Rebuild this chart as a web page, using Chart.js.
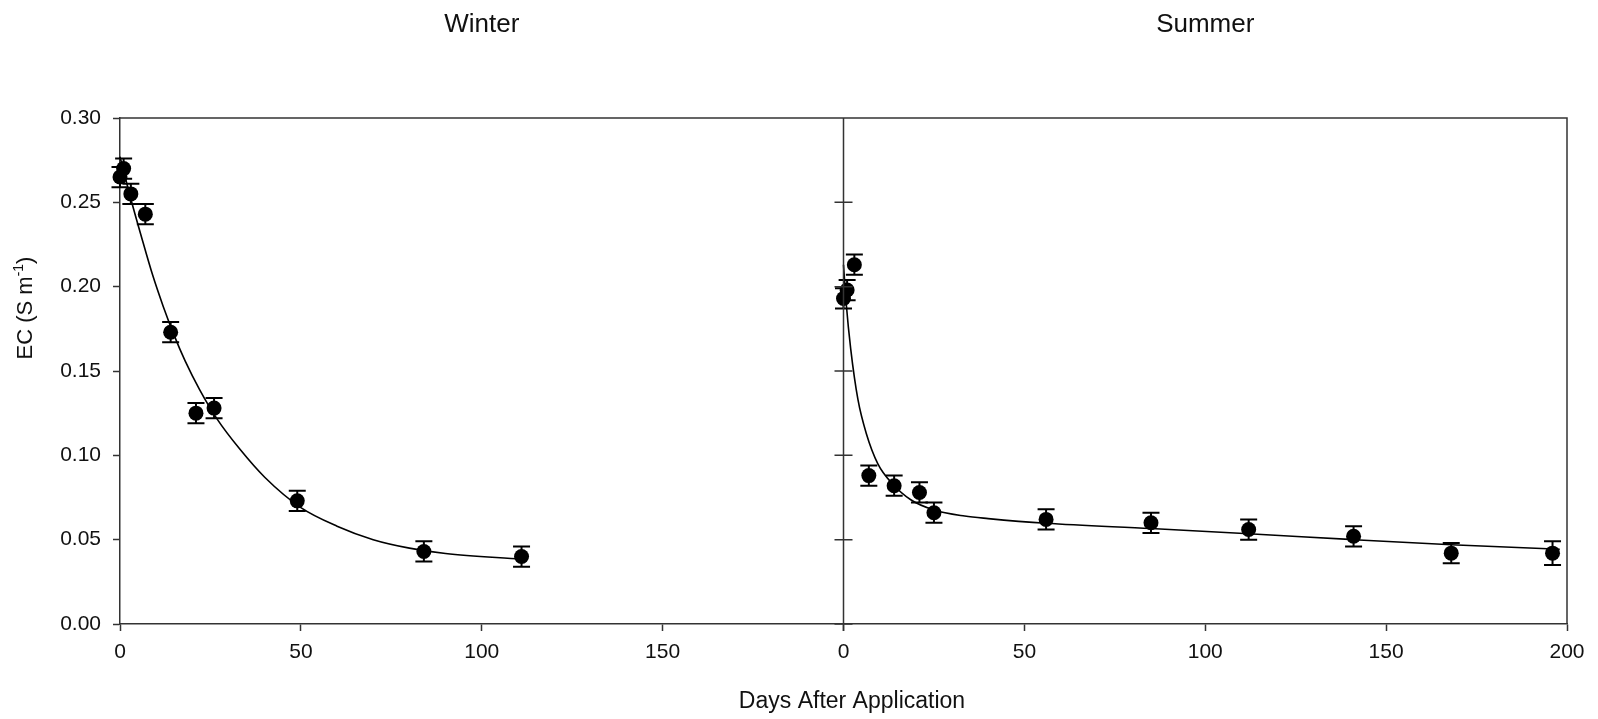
<!DOCTYPE html>
<html>
<head>
<meta charset="utf-8">
<title>EC after application</title>
<script src="https://cdn.jsdelivr.net/npm/chart.js@4.4.1/dist/chart.umd.min.js"></script>
<style>
  html, body { margin: 0; padding: 0; background: #fff; }
  #wrap { width: 1598px; height: 719px; }
</style>
</head>
<body>
<div id="wrap"><canvas id="ecChart" width="1598" height="719"></canvas></div>
<script>
// Measured EC (S m-1) with standard errors, winter application
const winterDays = [0, 1, 3, 7, 14, 21, 26, 49, 84, 111];
const winterEC = [0.265, 0.270, 0.255, 0.243, 0.173, 0.125, 0.128, 0.073, 0.043, 0.040];
const winterErr = [0.006, 0.006, 0.006, 0.006, 0.006, 0.006, 0.006, 0.006, 0.006, 0.006];

// Measured EC, summer application
const summerDays = [0, 1, 3, 7, 14, 21, 25, 56, 85, 112, 141, 168, 196];
const summerEC = [0.193, 0.198, 0.213, 0.088, 0.082, 0.078, 0.066, 0.062, 0.060, 0.056, 0.052, 0.042, 0.042];
const summerErr = [0.006, 0.006, 0.006, 0.006, 0.006, 0.006, 0.006, 0.006, 0.006, 0.006, 0.006, 0.006, 0.007];

// Fitted decay curves
const winterFitDays = [0, 3, 6, 9, 12, 15, 18, 22, 27, 33, 40, 50, 60, 70, 80, 90, 111];
const winterFitEC = [0.277, 0.252, 0.229, 0.207, 0.188, 0.171, 0.156, 0.139, 0.121, 0.104, 0.087, 0.069, 0.058, 0.050, 0.045, 0.0418, 0.0384];
const summerFitDays = [0, 0.75, 2, 4, 6.3, 9.5, 13.6, 18.7, 25, 33.5, 40, 56, 85, 112, 141, 168, 198];
const summerFitEC = [0.213, 0.190, 0.163, 0.133, 0.113, 0.095, 0.083, 0.0735, 0.0676, 0.0640, 0.0625, 0.0597, 0.0566, 0.0535, 0.0500, 0.0470, 0.0443];

const panelTitles = ['Winter', 'Summer'];
const xTitle = 'Days After Application';
const yTickStep = 0.05;
const xTickStep = 50;

const ink = '#111';
const axisColor = '#333';
const fontFamily = '"Liberation Sans", Arial, Helvetica, sans-serif';

function toPoints(xs, ys) {
    return xs.map((x, i) => ({ x: x, y: ys[i] }));
}

// Error bars drawn under the markers
const errorBars = {
    id: 'errorBars',
    beforeDatasetsDraw(chart) {
        const ctx = chart.ctx;
        const yScale = chart.scales.y;
        ctx.save();
        ctx.strokeStyle = '#000';
        ctx.lineWidth = 2;
        chart.data.datasets.forEach(ds => {
            if (!ds.errors) return;
            const xScale = chart.scales[ds.xAxisID];
            ds.data.forEach((p, i) => {
                const px = xScale.getPixelForValue(p.x);
                const top = yScale.getPixelForValue(p.y + ds.errors[i]);
                const bottom = yScale.getPixelForValue(p.y - ds.errors[i]);
                ctx.beginPath();
                ctx.moveTo(px, top);
                ctx.lineTo(px, bottom);
                ctx.moveTo(px - 8.5, top);
                ctx.lineTo(px + 8.5, top);
                ctx.moveTo(px - 8.5, bottom);
                ctx.lineTo(px + 8.5, bottom);
                ctx.stroke();
            });
        });
        ctx.restore();
    }
};

// Box around both panels, the divider and its crossing ticks
const panelFrame = {
    id: 'panelFrame',
    afterDraw(chart) {
        const ctx = chart.ctx;
        const area = chart.chartArea;
        const yScale = chart.scales.y;
        const divX = chart.scales.xS.getPixelForValue(0);
        ctx.save();
        ctx.strokeStyle = axisColor;
        ctx.lineWidth = 1.5;
        ctx.beginPath();
        ctx.moveTo(area.left, area.top);
        ctx.lineTo(area.right, area.top);
        ctx.lineTo(area.right, area.bottom);
        ctx.moveTo(divX, area.top);
        ctx.lineTo(divX, area.bottom);
        yScale.ticks.forEach(t => {
            const py = yScale.getPixelForValue(t.value);
            ctx.moveTo(divX - 9, py);
            ctx.lineTo(divX + 9, py);
        });
        ctx.stroke();
        ctx.restore();
    }
};

// Panel titles and axis titles
const chartText = {
    id: 'chartText',
    afterDraw(chart) {
        const ctx = chart.ctx;
        const xW = chart.scales.xW;
        const xS = chart.scales.xS;
        ctx.save();
        ctx.fillStyle = ink;
        ctx.textAlign = 'center';
        ctx.textBaseline = 'alphabetic';
        ctx.font = '26px ' + fontFamily;
        ctx.fillText(panelTitles[0], (xW.left + xW.right) / 2, 32);
        ctx.fillText(panelTitles[1], (xS.left + xS.right) / 2, 32);

        ctx.font = '23px ' + fontFamily;
        ctx.fillText(xTitle, 852, 708);

        // y title with superscript unit
        ctx.translate(26, 308);
        ctx.rotate(-Math.PI / 2);
        ctx.textAlign = 'left';
        ctx.textBaseline = 'middle';
        const mainFont = '22px ' + fontFamily;
        const supFont = '14px ' + fontFamily;
        ctx.font = mainFont;
        const w1 = ctx.measureText('EC (S m').width;
        const w3 = ctx.measureText(')').width;
        ctx.font = supFont;
        const w2 = ctx.measureText('-1').width;
        let x0 = -(w1 + w2 + w3) / 2;
        ctx.font = mainFont;
        ctx.fillText('EC (S m', x0, 0);
        ctx.font = supFont;
        ctx.fillText('-1', x0 + w1, -7);
        ctx.font = mainFont;
        ctx.fillText(')', x0 + w1 + w2, 0);
        ctx.restore();
    }
};

function xAxis(showLast) {
    return {
        type: 'linear',
        position: 'bottom',
        stack: 'days',
        stackWeight: 1,
        min: 0,
        max: 200,
        ticks: {
            stepSize: xTickStep,
            autoSkip: false,
            maxRotation: 0,
            padding: 9,
            color: ink,
            font: { family: fontFamily, size: 21 },
            callback: v => (v === 200 && !showLast) ? '' : String(v)
        },
        grid: { drawOnChartArea: false, drawTicks: true, tickLength: 7, tickWidth: 1.5, tickColor: axisColor },
        border: { color: axisColor, width: 1.5 },
        afterFit: s => { s.height = 95; }
    };
}

const ctx = document.getElementById('ecChart').getContext('2d');
const ecChart = new Chart(ctx, {
    type: 'scatter',
    data: {
        datasets: [
            {
                label: 'Winter fit', data: toPoints(winterFitDays, winterFitEC), xAxisID: 'xW', yAxisID: 'y',
                showLine: true, borderColor: '#000', borderWidth: 1.6, pointRadius: 0,
                cubicInterpolationMode: 'monotone', clip: false
            },
            {
                label: 'Summer fit', data: toPoints(summerFitDays, summerFitEC), xAxisID: 'xS', yAxisID: 'y',
                showLine: true, borderColor: '#000', borderWidth: 1.6, pointRadius: 0,
                cubicInterpolationMode: 'monotone', clip: false
            },
            {
                label: 'Winter', data: toPoints(winterDays, winterEC), errors: winterErr, xAxisID: 'xW', yAxisID: 'y',
                pointRadius: 7.5, pointBackgroundColor: '#000', pointBorderWidth: 0, clip: false
            },
            {
                label: 'Summer', data: toPoints(summerDays, summerEC), errors: summerErr, xAxisID: 'xS', yAxisID: 'y',
                pointRadius: 7.5, pointBackgroundColor: '#000', pointBorderWidth: 0, clip: false
            }
        ]
    },
    options: {
        responsive: false,
        animation: false,
        events: [],
        layout: { padding: { top: 118, right: 31, left: 0, bottom: 0 } },
        plugins: {
            legend: { display: false },
            tooltip: { enabled: false },
            title: { display: false }
        },
        scales: {
            xW: xAxis(false),
            xS: xAxis(true),
            y: {
                type: 'linear',
                position: 'left',
                min: 0,
                max: 0.3,
                ticks: {
                    stepSize: yTickStep,
                    padding: 12,
                    color: ink,
                    font: { family: fontFamily, size: 21 },
                    callback: v => v.toFixed(2)
                },
                grid: { drawOnChartArea: false, tickLength: 7, tickWidth: 1.5, tickColor: axisColor },
                border: { color: axisColor, width: 1.5 },
                afterFit: s => { s.width = 120; }
            }
        }
    },
    plugins: [errorBars, panelFrame, chartText]
});
</script>
</body>
</html>
